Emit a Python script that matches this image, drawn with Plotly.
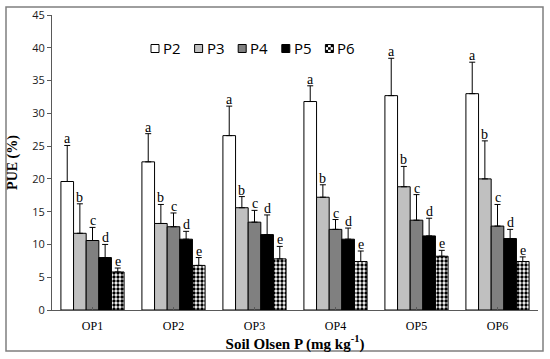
import plotly.graph_objects as go

categories = ["OP1", "OP2", "OP3", "OP4", "OP5", "OP6"]
series_names = ["P2", "P3", "P4", "P5", "P6"]

p2 = [19.6, 22.6, 26.6, 31.8, 32.7, 33.0]
p3 = [11.7, 13.2, 15.6, 17.2, 18.8, 20.0]
p4 = [10.6, 12.7, 13.4, 12.3, 13.7, 12.8]
p5 = [8.0, 10.8, 11.5, 10.8, 11.3, 10.9]
p6 = [5.8, 6.8, 7.8, 7.4, 8.2, 7.4]

p2_err_top = [25.1, 26.9, 31.1, 34.2, 38.4, 37.8]
p3_err_top = [16.2, 16.1, 17.3, 19.1, 21.9, 25.8]
p4_err_top = [12.6, 14.8, 15.2, 13.8, 17.6, 16.1]
p5_err_top = [10.0, 12.0, 14.5, 12.5, 14.0, 12.3]
p6_err_top = [6.4, 8.0, 9.7, 9.0, 9.1, 8.1]

letters = ["a", "b", "c", "d", "e"]

values = [p2, p3, p4, p5, p6]
err_tops = [p2_err_top, p3_err_top, p4_err_top, p5_err_top, p6_err_top]

colors = ["#ffffff", "#c0c0c0", "#808080", "#000000", "#ffffff"]

serif = "Liberation Serif"
sans = "Open Sans"

W, H = 550, 359
ML, MR, MT, MB = 52, 12, 15, 49
PW, PH = W - ML - MR, H - MT - MB


def px(x):  # pixel -> paper x
    return (x - ML) / PW


def py(y):  # pixel -> paper y
    return (H - MB - y) / PH


fig = go.Figure()
bargap = 0.22
n = len(series_names)
for i, (name, vals, tops) in enumerate(zip(series_names, values, err_tops)):
    plus = [t - v for t, v in zip(tops, vals)]
    marker = dict(color=colors[i], line=dict(color="#000000", width=1))
    if name == "P6":
        marker["pattern"] = dict(shape=".", fgcolor="#000000", bgcolor="#ffffff",
                                 size=4, solidity=0.55, fillmode="replace")
    fig.add_trace(go.Bar(
        x=list(range(len(categories))), y=vals, name=name, marker=marker,
        showlegend=False,
        error_y=dict(type="data", symmetric=False, array=plus,
                     arrayminus=[0] * len(vals), color="#000000",
                     thickness=1, width=3),
    ))

# significance letters above the error bars
bw = (1 - bargap) / n
annotations = []
for i in range(n):
    off = -(1 - bargap) / 2 + (i + 0.5) * bw
    for j in range(len(categories)):
        annotations.append(dict(
            x=j + off, y=err_tops[i][j], xref="x", yref="y", text=letters[i],
            showarrow=False, yanchor="bottom", yshift=-3,
            font=dict(family=serif, size=14, color="#000000"),
        ))

# hand-made legend (square swatch + label), laid out in pixels
shapes = [dict(type="rect", xref="paper", yref="paper",
               x0=px(6), x1=px(543), y0=py(351), y1=py(7),
               line=dict(color="#7f7f7f", width=1.5), fillcolor="rgba(0,0,0,0)",
               layer="below")]
leg_x0 = 151
leg_step = 43.6
sq = 8
leg_cy = 48.5
for i, name in enumerate(series_names):
    x0 = leg_x0 + i * leg_step
    shapes.append(dict(type="rect", xref="paper", yref="paper",
                       x0=px(x0), x1=px(x0 + sq), y0=py(leg_cy + sq / 2), y1=py(leg_cy - sq / 2),
                       line=dict(color="#000000", width=1), fillcolor=colors[i]))
    if name == "P6":
        c = sq / 3
        for (a, b) in [(0, 0), (0, 2), (1, 1), (2, 0), (2, 2)]:
            cx = x0 + a * c
            cy = leg_cy - sq / 2 + b * c
            shapes.append(dict(type="rect", xref="paper", yref="paper",
                               x0=px(cx), x1=px(cx + c), y0=py(cy + c), y1=py(cy),
                               line=dict(width=0), fillcolor="#000000"))
    annotations.append(dict(
        x=px(x0 + sq + 2), y=py(leg_cy), xref="paper", yref="paper", text=name,
        showarrow=False, xanchor="left", yanchor="middle",
        font=dict(family=sans, size=15, color="#000000"),
    ))

fig.update_layout(
    width=W, height=H,
    margin=dict(l=ML, r=MR, t=MT, b=MB, autoexpand=False),
    paper_bgcolor="#ffffff", plot_bgcolor="#ffffff",
    barmode="group", bargap=bargap, bargroupgap=0,
    showlegend=False,
    annotations=annotations,
    shapes=shapes,
)

fig.update_xaxes(
    tickmode="array", tickvals=list(range(len(categories))), ticktext=categories,
    range=[-0.5, len(categories) - 0.5], automargin=False,
    showline=True, linecolor="#595959", linewidth=1,
    ticks="inside", ticklen=3, tickcolor="#595959", tickson="boundaries",
    ticklabelstandoff=5,
    showgrid=False, zeroline=False,
    tickfont=dict(family=serif, size=12, color="#000000"),
    title=dict(text="<b>Soil Olsen P (mg kg<sup>-1</sup>)</b>",
               font=dict(family=serif, size=15, color="#000000"), standoff=0),
)
fig.update_yaxes(
    range=[0, 45], dtick=5, tick0=0, automargin=False,
    showline=True, linecolor="#595959", linewidth=1,
    ticks="outside", ticklen=4, tickcolor="#595959",
    showgrid=False, zeroline=False,
    tickfont=dict(family=sans, size=11, color="#1a1a1a"),
    title=dict(text="<b>PUE (%)</b>", font=dict(family=serif, size=14, color="#000000"),
               standoff=11),
)

fig.write_html("out.html", config={"displayModeBar": False},
               post_script="document.body.style.margin='0';document.body.style.overflow='hidden';")
